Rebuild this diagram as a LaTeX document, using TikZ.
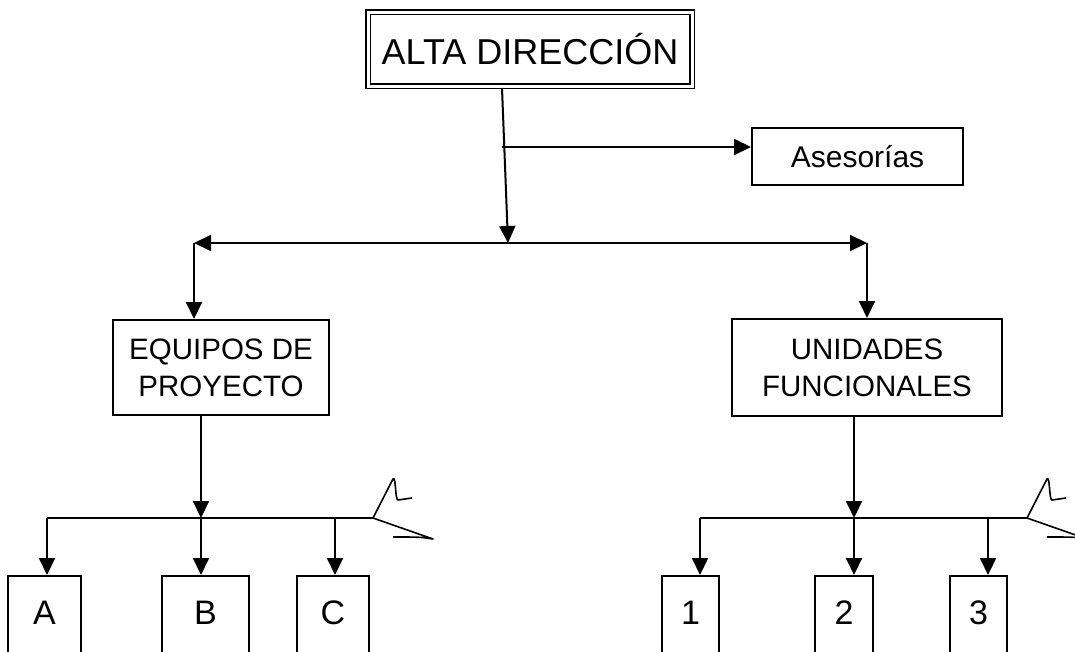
\documentclass[tikz,border=0pt]{standalone}
\usepackage{fontspec}
\setmainfont{Liberation Sans}
\usetikzlibrary{arrows.meta}
\tikzset{
  link/.style={line width=2pt, -{Triangle[length=17pt,width=16pt]}},
  unitbox/.style={draw, line width=2pt, inner sep=0pt, align=center,
    font=\fontsize{29.5}{37}\selectfont},
  leafbox/.style={draw, line width=2pt, inner sep=0pt, anchor=north,
    text height=48pt, text depth=38pt, font=\fontsize{34}{40}\selectfont},
}
\begin{document}
\begin{tikzpicture}[x=1pt,y=-1pt]
  \useasboundingbox (0,0) rectangle (1075,651);
  \clip (0,0) rectangle (1075,651);

  \node[draw, double, double distance=3pt, line width=1.5pt, inner sep=0pt,
    minimum width=324pt, minimum height=74pt, font=\fontsize{36}{42}\selectfont]
    (alta) at (530,49) {ALTA DIRECCIÓN};
  \node[draw, line width=2pt, inner sep=0pt, minimum width=211pt, minimum height=57pt,
    font=\fontsize{30}{34}\selectfont] (ases) at (857.5,156.5) {Asesorías};
  \node[unitbox, minimum width=216pt, minimum height=95pt] (equipos) at (221,367.5)
    {EQUIPOS DE\\PROYECTO};
  \node[unitbox, minimum width=270pt, minimum height=97pt] (unidades) at (867,367.5)
    {UNIDADES\\FUNCIONALES};

  \node[leafbox, minimum width=73pt] (a) at (44.5,575) {A};
  \node[leafbox, minimum width=87pt] (b) at (205.5,575) {B};
  \node[leafbox, minimum width=72pt] (c) at (333,575) {C};
  \node[leafbox, minimum width=57pt] (n1) at (690.5,575) {1};
  \node[leafbox, minimum width=58pt] (n2) at (844,575) {2};
  \node[leafbox, minimum width=57pt] (n3) at (978.5,575) {3};

  \coordinate (top) at (502,88);
  \coordinate (tap) at (502,147);
  \coordinate (hub) at (508,243);
  \coordinate (lcorner) at (194,243);
  \coordinate (rcorner) at (867,243);
  \coordinate (lbus) at (201,518);
  \coordinate (lbusL) at (47,518);
  \coordinate (lbusC) at (335,518);
  \coordinate (lbusR) at (373,518);
  \coordinate (rbus) at (854,518);
  \coordinate (rbusL) at (700,518);
  \coordinate (rbusC) at (988,518);
  \coordinate (rbusR) at (1027,518);

  \draw[link] (top) -- (hub);
  \draw[link] (tap) -- (tap -| ases.west);
  \draw[link] (hub) -- (lcorner);
  \draw[link] (hub) -- (rcorner);
  \draw[link] (lcorner) -- (lcorner |- equipos.north);
  \draw[link] (rcorner) -- (rcorner |- unidades.north);

  \draw[link] (lbus |- equipos.south) -- (lbus);
  \draw[line width=2pt] (lbusL) -- (lbusR);
  \draw[link] (lbusL) -- (lbusL |- a.north);
  \draw[link] (lbus) -- (lbus |- b.north);
  \draw[link] (lbusC) -- (lbusC |- c.north);

  \draw[link] (rbus |- unidades.south) -- (rbus);
  \draw[line width=2pt] (rbusL) -- (rbusR);
  \draw[link] (rbusL) -- (rbusL |- n1.north);
  \draw[link] (rbus) -- (rbus |- n2.north);
  \draw[link] (rbusC) -- (rbusC |- n3.north);

  % hand-drawn tails
  \foreach \dx/\bus in {0/lbusR, 654/rbusR} {
    \draw[line width=1.6pt, line join=round]
      (\bus) -- (393+\dx,479) .. controls (396+\dx,475) and (395+\dx,500) .. (398+\dx,500)
      -- (412+\dx,498);
    \draw[line width=1.6pt, line join=round]
      (\bus) -- (433+\dx,539) .. controls (420+\dx,537) .. (393+\dx,537);
  }
\end{tikzpicture}
\end{document}
